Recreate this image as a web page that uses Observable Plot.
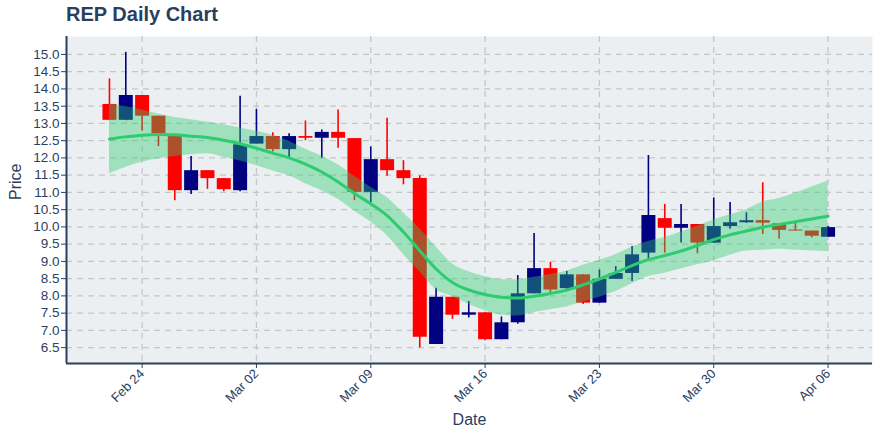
<!DOCTYPE html>
<html>
<head>
<meta charset="utf-8">
<script src="https://cdn.jsdelivr.net/npm/d3@7"></script>
<script src="https://cdn.jsdelivr.net/npm/@observablehq/plot@0.6"></script>
<style>
  html, body { margin: 0; padding: 0; background: #fff; }
  #wrap { position: relative; width: 880px; height: 440px; }
  #title { position: absolute; left: 66px; top: 3px; font: bold 20px "Liberation Sans", Arial, sans-serif; color: #2a3f5f; }
</style>
</head>
<body>
<div id="wrap"><div id="title">REP Daily Chart</div></div>
<script>
// ---- data ----
const dates = [
  "2020-02-22","2020-02-23","2020-02-24","2020-02-25","2020-02-26","2020-02-27","2020-02-28","2020-02-29",
  "2020-03-01","2020-03-02","2020-03-03","2020-03-04","2020-03-05","2020-03-06","2020-03-07","2020-03-08",
  "2020-03-09","2020-03-10","2020-03-11","2020-03-12","2020-03-13","2020-03-14","2020-03-15","2020-03-16",
  "2020-03-17","2020-03-18","2020-03-19","2020-03-20","2020-03-21","2020-03-22","2020-03-23","2020-03-24",
  "2020-03-25","2020-03-26","2020-03-27","2020-03-28","2020-03-29","2020-03-30","2020-03-31","2020-04-01",
  "2020-04-02","2020-04-03","2020-04-04","2020-04-05","2020-04-06"
];
const open  = [13.55,13.09,13.81,13.21,12.62,11.05,11.63,11.40,11.05,12.40,12.62,12.24,12.62,12.57,12.74,12.56,
               11.00,11.95,11.63,11.40,6.59,7.96,7.44,7.51,6.73,7.22,8.06,8.79,8.21,8.61,7.79,8.48,
               8.65,9.24,10.24,9.96,10.07,9.53,10.01,10.12,10.18,10.09,9.91,9.88,9.70];
const high  = [14.29,15.06,13.81,13.21,12.62,12.04,11.63,11.40,13.79,13.41,12.73,12.70,13.07,12.81,13.39,12.56,
               12.32,13.15,11.92,11.48,8.22,7.96,7.84,7.51,7.39,8.59,9.81,8.97,8.71,8.61,8.75,8.85,
               9.43,12.07,10.65,10.65,10.07,10.84,10.71,10.41,11.28,10.09,10.11,9.88,10.01];
const low   = [13.08,13.08,12.77,12.33,10.76,10.94,11.09,11.02,11.02,12.40,12.17,11.99,12.50,11.99,12.28,10.76,
               10.70,11.47,11.22,6.49,6.59,7.32,7.36,6.70,6.73,7.18,8.06,8.06,8.17,7.75,7.79,8.48,
               8.42,9.00,9.24,9.53,9.22,9.53,9.93,10.10,9.78,9.64,9.88,9.68,9.70];
const close = [13.09,13.81,13.21,12.70,11.05,11.63,11.40,11.08,12.38,12.62,12.24,12.62,12.57,12.74,12.57,11.00,
               11.95,11.63,11.40,6.80,7.96,7.44,7.51,6.73,7.22,8.06,8.79,8.17,8.61,7.79,8.48,8.65,
               9.19,10.33,9.96,10.07,9.53,10.01,10.12,10.18,10.11,9.90,9.88,9.73,9.98];
const trendMid   = [12.55,12.61,12.66,12.68,12.67,12.63,12.59,12.51,12.41,12.28,12.14,12.00,11.82,11.59,11.30,10.97,
                    10.67,10.33,9.85,9.31,8.78,8.39,8.17,8.04,7.96,7.94,7.99,8.07,8.17,8.32,8.49,8.68,
                    8.88,9.05,9.17,9.30,9.46,9.63,9.77,9.88,9.99,10.07,10.15,10.23,10.31];
const trendUpper = [13.57,13.48,13.39,13.27,13.17,13.11,13.04,12.96,12.87,12.77,12.66,12.48,12.25,12.05,11.80,11.47,
                    11.15,10.85,10.40,9.95,9.42,8.93,8.70,8.56,8.47,8.47,8.54,8.62,8.72,8.89,9.03,9.19,
                    9.42,9.58,9.69,9.85,10.02,10.20,10.35,10.50,10.72,10.82,10.98,11.16,11.33];
const trendLower = [11.54,11.72,11.88,11.97,12.04,12.09,12.12,12.02,11.91,11.77,11.62,11.48,11.25,11.05,10.80,10.46,
                    10.14,9.75,9.20,8.70,8.18,7.98,7.75,7.57,7.44,7.42,7.52,7.60,7.68,7.82,7.96,8.13,
                    8.35,8.56,8.66,8.78,8.90,9.02,9.18,9.30,9.32,9.35,9.32,9.30,9.28];
const xTickDates = ["2020-02-24","2020-03-02","2020-03-09","2020-03-16","2020-03-23","2020-03-30","2020-04-06"];
const yTickValues = [6.5,7.0,7.5,8.0,8.5,9.0,9.5,10.0,10.5,11.0,11.5,12.0,12.5,13.0,13.5,14.0,14.5,15.0];

// ---- tables built from the arrays ----
const candles = dates.map((d, i) => ({
  date: new Date(d), open: open[i], high: high[i], low: low[i], close: close[i],
  up: close[i] >= open[i]
}));
const trend = dates.map((d, i) => ({date: new Date(d), mid: trendMid[i], upper: trendUpper[i], lower: trendLower[i]}));
const xTicks = xTickDates.map(d => new Date(d));
const xDomain = [new Date("2020-02-19T08:53:00Z"), new Date("2020-04-08T17:17:00Z")];
const yDomain = [6.04, 15.52];

const INK = "#2a3f5f";
const GRID = "#c4c7ca";
const colorOf = d => d.up ? "#000080" : "#ff0000";

const chart = Plot.plot({
  width: 880, height: 440,
  marginLeft: 66, marginRight: 8, marginTop: 36, marginBottom: 77,
  style: {fontFamily: "'Liberation Sans', Arial, sans-serif", fontSize: "13px", color: INK, background: "transparent"},
  x: {type: "utc", domain: xDomain},
  y: {domain: yDomain},
  marks: [
    Plot.frame({fill: "#eceff1", stroke: null}),
    Plot.gridX(xTicks, {stroke: GRID, strokeOpacity: 1, strokeWidth: 1.3, strokeDasharray: "6,5"}),
    Plot.gridY(yTickValues, {stroke: GRID, strokeOpacity: 1, strokeWidth: 1.3, strokeDasharray: "6,5"}),
    Plot.ruleX(candles, {x: "date", y1: "low", y2: "high", stroke: colorOf, strokeWidth: 1.6}),
    Plot.ruleX(candles, {x: "date", y1: "open", y2: "close", stroke: colorOf, strokeWidth: 14}),
    Plot.areaY(trend, {x: "date", y1: "lower", y2: "upper", fill: "#2ecc71", fillOpacity: 0.4, curve: "monotone-x"}),
    Plot.line(trend, {x: "date", y: "mid", stroke: "#2ecc71", strokeWidth: 3, curve: "monotone-x"}),
    Plot.axisX(xTicks, {tickFormat: d3.utcFormat("%b %d"), tickRotate: -45, tickSize: 5, tickPadding: 3, label: null, fontSize: 13, stroke: INK}),
    Plot.axisY(yTickValues, {tickFormat: d3.format(".1f"), tickSize: 5, tickPadding: 2, label: null, fontSize: 13.5, stroke: INK}),
    Plot.ruleX([xDomain[0]], {stroke: INK, strokeWidth: 2}),
    Plot.ruleY([yDomain[0]], {stroke: INK, strokeWidth: 2}),
    Plot.text(["Price"], {frameAnchor: "left", dx: -51, rotate: -90, fontSize: 16, fill: INK}),
    Plot.text(["Date"], {frameAnchor: "bottom", dy: 61, fontSize: 16, fill: INK})
  ]
});
chart.style.position = "absolute";
chart.style.left = "0";
chart.style.top = "0";
document.getElementById("wrap").appendChild(chart);
</script>
</body>
</html>
